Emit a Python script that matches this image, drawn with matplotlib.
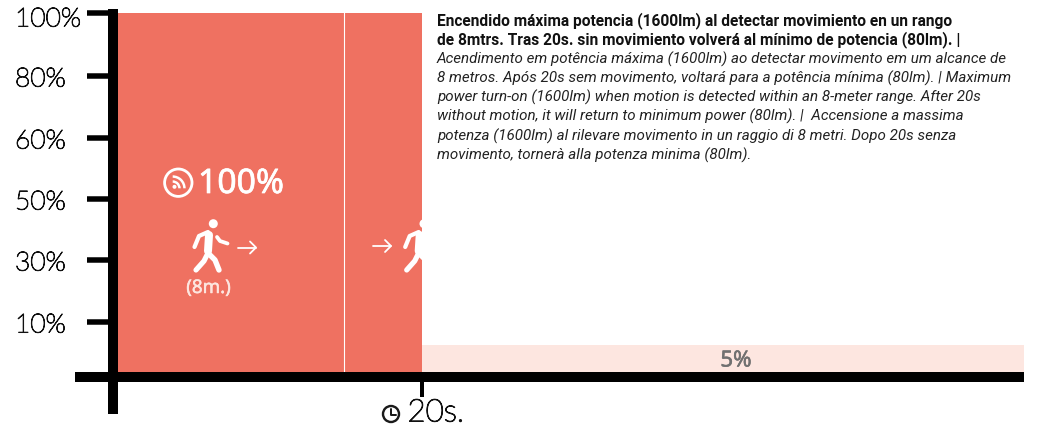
"""Motion sensor power profile: 100% for 20s after detection, then 5%."""

import numpy as np
import matplotlib
matplotlib.use("Agg")
import matplotlib.pyplot as plt
import matplotlib.patheffects as pe
from matplotlib.patches import Circle, Rectangle, Wedge
from matplotlib.lines import Line2D
from matplotlib.transforms import Affine2D, ScaledTranslation

# Data
SEGMENT_START = [0, 20]
SEGMENT_WIDTH = [20, 39.7]
SEGMENT_LEVEL = [100, 5]
SEGMENT_COLOR = ["#EF7161", "#FDE6E0"]
SEGMENT_LABEL = ["100%", "5%"]
MARKER_TIME = 14.88
Y_TICKS = [100, 80, 60, 50, 30, 10]
Y_TICK_LABELS = ["100%", "80%", "60%", "50%", "30%", "10%"]
X_TICKS = [20]
X_TICK_LABELS = ["20s."]
RANGE_LABEL = "(8m.)"
TEXT_BOLD = [
    "Encendido máxima potencia (1600lm) al detectar movimiento en un rango",
    "de 8mtrs. Tras 20s. sin movimiento volverá al mínimo de potencia (80lm). |",
]
TEXT_ITALIC = [
    "Acendimento em potência máxima (1600lm) ao detectar movimento em um alcance de",
    "8 metros. Após 20s sem movimento, voltará para a potência mínima (80lm). | Maximum",
    "power turn-on (1600lm) when motion is detected within an 8-meter range. After 20s",
    "without motion, it will return to minimum power (80lm). |  Accensione a massima",
    "potenza (1600lm) al rilevare movimento in un raggio di 8 metri. Dopo 20s senza",
    "movimento, tornerà alla potenza minima (80lm).",
]

# The y axis is not linear: the ticks are evenly spaced whatever their value
SCALE_VALUE = [0, 5, 10, 30, 50, 60, 80, 100]
SCALE_POS = [0, 27, 50, 112, 173, 234, 296, 359]

W, H = 1042, 428
plt.rcParams["font.family"] = ["Lato", "DejaVu Sans"]

fig = plt.figure(figsize=(W / 100, H / 100), dpi=100)
ax = fig.add_axes([118 / W, (H - 372) / H, (1024 - 118) / W, 359 / H])
ax.patch.set_visible(False)
for side in ax.spines:
    ax.spines[side].set_visible(False)

ax.set_yscale("function", functions=(
    lambda v: np.interp(v, SCALE_VALUE, SCALE_POS),
    lambda p: np.interp(p, SCALE_POS, SCALE_VALUE),
))
ax.set_ylim(0, 100)
ax.set_xlim(0, 59.7)

ax.bar(SEGMENT_START, SEGMENT_LEVEL, width=SEGMENT_WIDTH, align="edge",
       color=SEGMENT_COLOR, linewidth=0)
ax.axvline(MARKER_TIME, color="white", lw=0.8)

# Ticks, sizes given in pixels
PX = 0.72
ax.set_yticks(Y_TICKS, labels=Y_TICK_LABELS)
ax.set_xticks(X_TICKS, labels=X_TICK_LABELS)
ax.minorticks_off()
ax.tick_params(axis="y", length=31 * PX, width=5.5 * PX, color="black",
               pad=72 * PX, labelsize=19, labelcolor="#111111")
ax.tick_params(axis="x", length=25 * PX, width=4 * PX, color="black",
               pad=1, labelsize=22.5, labelcolor="#111111")


def thicken(text, amount):
    # No in-between weight installed, so fatten the glyphs a little
    text.set_path_effects([pe.withStroke(linewidth=amount, foreground=text.get_color())])


for i, lab in enumerate(ax.get_yticklabels()):
    lab.set_horizontalalignment("left")
    lab.set_fontweight("light")
    thicken(lab, 0.75)
    drop = 4 if i == 0 else 1
    lab.set_transform(lab.get_transform()
                      + ScaledTranslation(0, -drop / 100, fig.dpi_scale_trans))
for lab in ax.get_xticklabels():
    lab.set_horizontalalignment("left")
    lab.set_fontweight("light")
    thicken(lab, 0.85)
    lab.set_transform(lab.get_transform()
                      + ScaledTranslation(-14 / 100, 0, fig.dpi_scale_trans))

# Everything below is placed in image pixels (origin top left)
px = Affine2D().scale(1, -1).translate(0, H)


def rect(x0, y0, x1, y1, color="black"):
    fig.add_artist(Rectangle((x0, y0), x1 - x0, y1 - y0, transform=px,
                             facecolor=color, edgecolor="none", zorder=5))


def stroke(xs, ys, width, color="white"):
    fig.add_artist(Line2D(xs, ys, transform=px, color=color, lw=width * PX,
                          solid_capstyle="round", solid_joinstyle="round", zorder=6))


def label(x, y, s, **kw):
    return fig.text(x, y, s, transform=px, zorder=7, **kw)


# Axis lines
rect(108, 9, 118, 414)
rect(75, 372, 1024, 382)


def walker(dx, dy=0):
    fig.add_artist(Circle((213.3 + dx, 223.7 + dy), 4.5, transform=px,
                          facecolor="white", edgecolor="none", zorder=6))
    stroke(np.array([194.5, 199, 208]) + dx, np.array([247, 236, 232]) + dy, 4.2)
    stroke(np.array([209, 208]) + dx, np.array([235, 251]) + dy, 8)
    stroke(np.array([217, 220, 227.5]) + dx, np.array([237, 241, 243.5]) + dy, 3.8)
    stroke(np.array([208, 204, 196]) + dx, np.array([253, 261, 270]) + dy, 5.2)
    stroke(np.array([208, 215, 219]) + dx, np.array([253, 260, 270]) + dy, 5.4)


def arrow(x0, x1, y):
    stroke([x0, x1], [y, y], 1.8)
    stroke([x1 - 6, x1, x1 - 6], [y - 6, y, y + 6], 1.8)


walker(0)
walker(210.7)
arrow(237.5, 256, 247.5)
arrow(372.5, 391, 246)

# Signal icon
fig.add_artist(Circle((178.3, 182.7), 13.7, transform=px, facecolor="none",
                      edgecolor="white", lw=2.8 * PX, zorder=6))
fig.add_artist(Circle((174.5, 186.8), 2, transform=px, facecolor="white",
                      edgecolor="none", zorder=6))
for r in (8, 13):
    fig.add_artist(Wedge((172.7, 188.3), r, 270, 360, width=2.5, transform=px,
                         facecolor="white", edgecolor="none", zorder=6))

# Clock icon
fig.add_artist(Circle((391, 414), 8, transform=px, facecolor="none",
                      edgecolor="#1a1a1a", lw=2.4 * PX, zorder=6))
stroke([391, 391, 395.5], [409, 414.5, 414.5], 2, color="#1a1a1a")

thicken(label(198, 184, SEGMENT_LABEL[0], color="white", fontsize=24.3, family="Noto Sans",
              va="center", ha="left"), 0.5)
thicken(label(208.7, 288, RANGE_LABEL, color="#FDE6E0", fontsize=13.5, family="Noto Sans",
              va="center", ha="center"), 0.35)
thicken(label(736, 361, SEGMENT_LABEL[1], color="#707070", fontsize=16, family="Noto Sans",
              va="center", ha="center"), 0.4)

# Description block
y = 20.3
for line in TEXT_BOLD:
    label(437, y, line, family="Roboto", fontsize=11.2, fontweight="bold",
          color="#111111", va="center")
    y += 19.3
for line in TEXT_ITALIC:
    label(437, y, line, family="Roboto", fontsize=10.9, fontstyle="italic",
          color="#222222", va="center")
    y += 19.3

fig.savefig("out.png", dpi=100)
print("Finished.")
